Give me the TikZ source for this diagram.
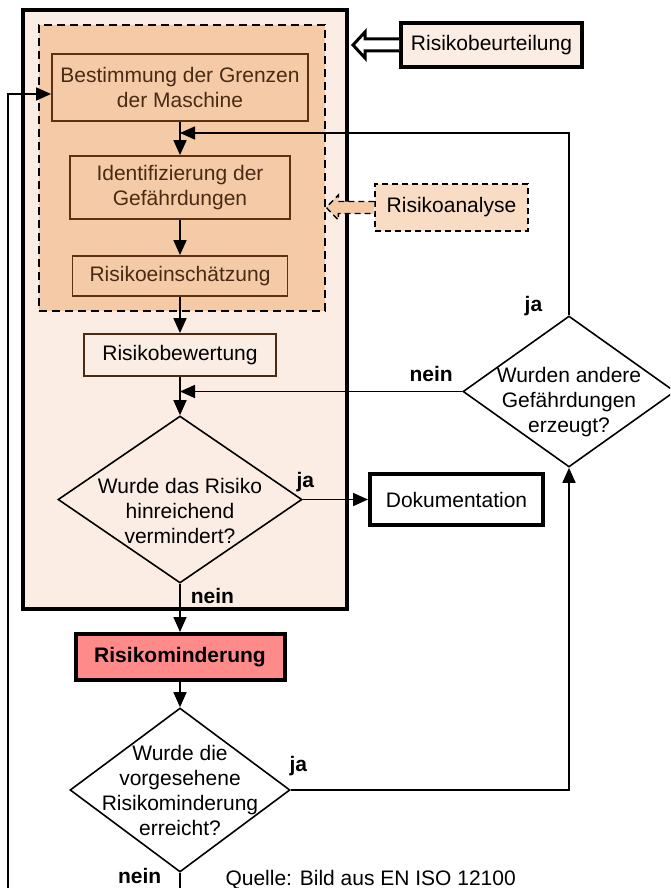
\documentclass[tikz,border=0pt]{standalone}
\usepackage{fontspec}
\setmainfont{Liberation Sans}
\usetikzlibrary{shapes.geometric,arrows.meta,calc}
\definecolor{hellbeige}{HTML}{FBEDE3}
\definecolor{pfirsich}{HTML}{F5CBA7}
\definecolor{analysefarbe}{HTML}{F8DCC4}
\definecolor{braun}{HTML}{5C3010}
\definecolor{braunschrift}{HTML}{4A2A12}
\definecolor{minderungsrot}{HTML}{FF8A8A}
\begin{document}
\begin{tikzpicture}[x=1pt,y=-1pt,
    font=\fontsize{21}{25}\selectfont,
    >={Triangle[length=15pt,width=13pt]},
    pfeil/.style={->, line width=1.6pt},
    innen/.style={draw=braun, line width=1.8pt, fill=pfirsich, text=braunschrift, align=center, inner sep=0pt},
    kasten/.style={draw, line width=4pt, align=center, inner sep=0pt},
    raute/.style={diamond, draw, line width=1.6pt, inner sep=0pt},
    rtext/.style={align=center},
    antwort/.style={font=\fontsize{21}{25}\selectfont\bfseries, inner sep=2pt}]
  \useasboundingbox (0,0) rectangle (670,888);
  \clip (0,0) rectangle (670,888);

  % Rahmen und Analysebereich
  \node[draw, line width=4pt, fill=hellbeige, minimum width=324pt, minimum height=599pt] (beurteilung) at (185,309.5) {};
  \node[draw, dash pattern=on 8pt off 5pt, line width=1.6pt, fill=pfirsich, minimum width=286pt, minimum height=286pt] (analyse) at (182,168) {};

  % Schritte
  \node[innen, minimum width=256pt, minimum height=67pt] (grenzen) at (180,87.5) {Bestimmung der Grenzen\\der Maschine};
  \node[innen, minimum width=220pt, minimum height=63pt] (gefahr) at (180,187.5) {Identifizierung der\\Gefährdungen};
  \node[innen, minimum width=215pt, minimum height=40pt] (einsch) at (180,276) {Risikoeinschätzung};
  \node[innen, draw=braunschrift, fill=hellbeige, text=black, minimum width=192pt, minimum height=42pt] (bewertung) at (180,355) {Risikobewertung};

  \node[raute, fill=hellbeige, minimum width=244pt, minimum height=167pt,
    label={[rtext, yshift=-11pt]center:Wurde das Risiko\\hinreichend\\vermindert?}] (frage1) at (180,499.5) {};
  \node[raute, fill=white, minimum width=212pt, minimum height=151pt,
    label={[rtext, yshift=-11pt]center:Wurden andere\\Gefährdungen\\erzeugt?}] (frage2) at (569,391.5) {};
  \node[raute, fill=white, minimum width=220pt, minimum height=164pt,
    label={[rtext]center:Wurde die\\vorgesehene\\Risikominderung\\erreicht?}] (frage3) at (180,790) {};

  \node[kasten, fill=white, minimum width=173pt, minimum height=51pt] (doku) at (456.5,499.5) {Dokumentation};
  \node[kasten, fill=minderungsrot, font=\fontsize{21}{25}\selectfont\bfseries, minimum width=209pt, minimum height=46pt] (minderung) at (180,657) {Risikominderung};

  \node[kasten, fill=hellbeige, minimum width=181pt, minimum height=44pt] (beurtext) at (491.5,45) {Risikobeurteilung};
  \node[draw, dash pattern=on 6pt off 4pt, line width=1.4pt, fill=analysefarbe, minimum width=153pt, minimum height=47pt] (anatext) at (451.5,207.5) {Risikoanalyse};

  % breite Pfeile
  \draw[line width=3pt, fill=white, line join=miter]
    ($(beurtext.west)+(0,-6)$) -- ++(-34,0) -- ++(0,-7) -- ++(-12,13) -- ++(12,13) -- ++(0,-7) -- ++(34,0);
  \draw[line width=1.4pt, dash pattern=on 6pt off 4pt, fill=pfirsich]
    ($(anatext.west)+(0,-6)$) -- ++(-36,0) -- ++(0,-6.5) -- ++(-12,12.5) -- ++(12,12.5) -- ++(0,-6.5) -- ++(36,0);

  % Verbindungen
  \coordinate (ruecklauf1) at (180,133);
  \coordinate (ruecklauf2) at (bewertung.south |- frage2.west);
  \coordinate (einstieg) at ($(grenzen.west)+(0,6.5)$);
  \coordinate (schleife) at (8,905);

  \draw[pfeil] (grenzen.south) -- (gefahr.north);
  \draw[pfeil] (gefahr.south) -- (einsch.north);
  \draw[pfeil] (einsch.south) -- (bewertung.north);
  \draw[pfeil] (bewertung.south) -- (frage1.north);
  \draw[pfeil] (frage1.east) -- node[antwort, pos=0, anchor=south west, xshift=-9pt, yshift=5pt] {ja} (doku.west);
  \draw[pfeil] (frage1.south) -- node[antwort, pos=0.25, anchor=west, xshift=8pt] {nein} (minderung.north);
  \draw[pfeil] (minderung.south) -- (frage3.north);
  \draw[pfeil] (frage3.east) -| node[antwort, pos=0, anchor=south west, xshift=-4pt, yshift=11pt] {ja} (frage2.south);
  \draw[pfeil] (frage2.north) |- node[antwort, pos=0, anchor=south east, xshift=-24pt, yshift=-3pt] {ja} (ruecklauf1);
  \draw[pfeil] (frage2.west) -- node[antwort, pos=0.11, anchor=south, yshift=7pt] {nein} (ruecklauf2);
  \draw[pfeil] (frage3.south) |- node[antwort, pos=0, anchor=east, xshift=-16pt, yshift=-3pt] {nein} (schleife) |- (einstieg);

  \node[anchor=base west] (quelle) at (222,885) {Quelle: Bild aus EN ISO 12100};
\end{tikzpicture}
\end{document}
